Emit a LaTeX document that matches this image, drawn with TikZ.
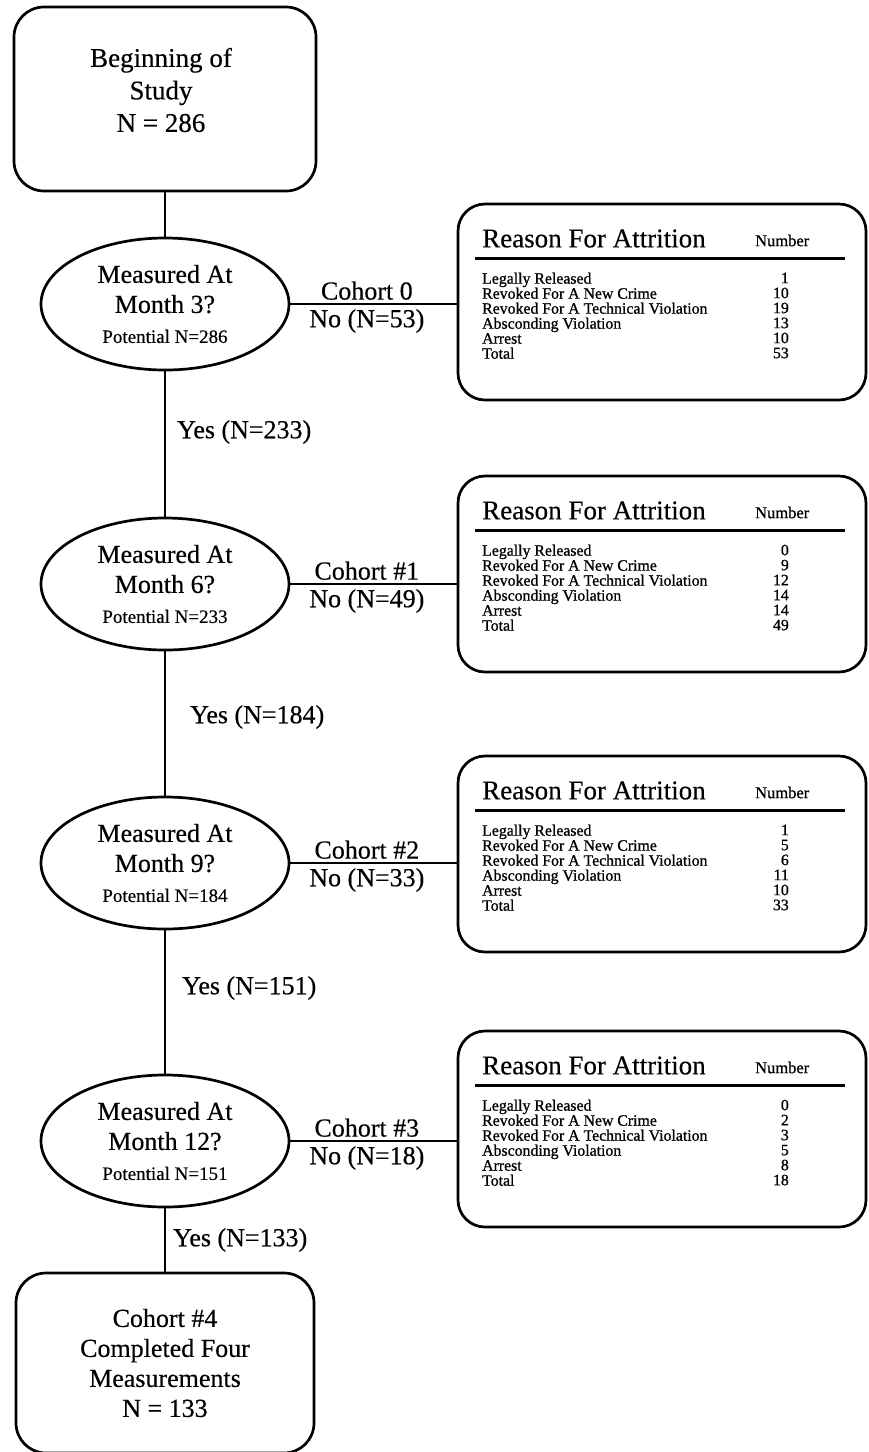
\documentclass[tikz,border=0pt]{standalone}
\usepackage{fontspec}
\setmainfont{Liberation Serif}[FakeBold=0.35]
\newfontfamily\rowfont{Liberation Serif}[FakeBold=0.9]
\usetikzlibrary{shapes.geometric}
\newcommand\attrbox[8]{%
  \node[abox] (#1) at (662,#2) {};
  \node[atitle] (#1t) at (482,#2-63.5) {Reason For Attrition};
  \node[anum] (#1n) at (755,#2-61.5) {Number};
  \draw[rulel] (475,#2-43.5) -- (845,#2-43.5);
  \node[arows, anchor=north west] (#1r) at (482,#2-29.5)
    {Legally Released\\Revoked For A New Crime\\Revoked For A Technical Violation\\Absconding Violation\\Arrest\\Total};
  \node[arows, anchor=north east, align=right] (#1v) at (789,#2-29.5)
    {#3\\#4\\#5\\#6\\#7\\#8};
}
\newcommand\bigfs{\fontsize{26}{30}\selectfont}
\newcommand\smallfs{\fontsize{19}{29}\selectfont}
\begin{document}
\begin{tikzpicture}[x=1pt,y=-1pt,
  conn/.style={line width=2.4pt},
  sbox/.style={draw, line width=2.7pt, rounded corners=30pt, inner sep=0pt},
  oval/.style={draw, ellipse, line width=2.7pt, minimum width=248pt, minimum height=132pt, inner sep=0pt, align=center, font=\bigfs},
  abox/.style={draw, line width=2.7pt, rounded corners=27pt, minimum width=408pt, minimum height=196pt, inner sep=0pt},
  atitle/.style={anchor=west, inner sep=0pt, font=\fontsize{27}{30}\selectfont},
  anum/.style={anchor=west, inner sep=0pt, font=\rowfont\fontsize{16.5}{18}\selectfont},
  arows/.style={inner sep=0pt, align=left, font=\rowfont\fontsize{15.8}{15}\selectfont},
  rulel/.style={line width=2.7pt},
  lbl/.style={inner sep=0pt, font=\fontsize{26}{30}\selectfont},
  big/.style={font=\fontsize{27}{32.5}\selectfont, align=center, inner sep=0pt},
]
\useasboundingbox (0,0) rectangle (868,1452);

% start box
\node[sbox, minimum width=302pt, minimum height=184pt] (top) at (165,99) {};
\node[big] (toptext) at (161,90) {Beginning of\\Study\\N = 286};

% decision ellipses
\node[oval] (e1) at (165,304) {Measured At\\Month 3?\\\smallfs Potential N=286};
\node[oval] (e2) at (165,584) {Measured At\\Month 6?\\\smallfs Potential N=233};
\node[oval] (e3) at (165,863) {Measured At\\Month 9?\\\smallfs Potential N=184};
\node[oval] (e4) at (165,1141) {Measured At\\Month 12?\\\smallfs Potential N=151};

% end box
\node[sbox, minimum width=298pt, minimum height=180pt, align=center, font=\bigfs] (end) at (165,1363)
  {Cohort \#4\\Completed Four\\Measurements\\N = 133};

% attrition boxes
\attrbox{b1}{302}{1}{10}{19}{13}{10}{53}
\attrbox{b2}{574}{0}{9}{12}{14}{14}{49}
\attrbox{b3}{854}{1}{5}{6}{11}{10}{33}
\attrbox{b4}{1129}{0}{2}{3}{5}{8}{18}

% vertical connectors
\draw[conn] (top.south) -- (e1.north);
\draw[conn] (e1.south) -- (e2.north);
\draw[conn] (e2.south) -- (e3.north);
\draw[conn] (e3.south) -- (e4.north);
\draw[conn] (e4.south) -- (end.north);

\node[lbl, anchor=west] (y1) at (177,432) {Yes (N=233)};
\node[lbl, anchor=west] (y2) at (190,717) {Yes (N=184)};
\node[lbl, anchor=west] (y3) at (182,988) {Yes (N=151)};
\node[lbl, anchor=west] (y4) at (173,1240) {Yes (N=133)};

% horizontal connectors
\draw[conn] (e1.east) -- node[lbl, above=3pt, pos=0.46] (c1) {Cohort 0} node[lbl, below=4pt, pos=0.46] (n1) {No (N=53)} (e1.east -| b1.west);
\draw[conn] (e2.east) -- node[lbl, above=3pt, pos=0.46] (c2) {Cohort \#1} node[lbl, below=4pt, pos=0.46] (n2) {No (N=49)} (e2.east -| b2.west);
\draw[conn] (e3.east) -- node[lbl, above=3pt, pos=0.46] (c3) {Cohort \#2} node[lbl, below=4pt, pos=0.46] (n3) {No (N=33)} (e3.east -| b3.west);
\draw[conn] (e4.east) -- node[lbl, above=3pt, pos=0.46] (c4) {Cohort \#3} node[lbl, below=4pt, pos=0.46] (n4) {No (N=18)} (e4.east -| b4.west);
\end{tikzpicture}
\end{document}
